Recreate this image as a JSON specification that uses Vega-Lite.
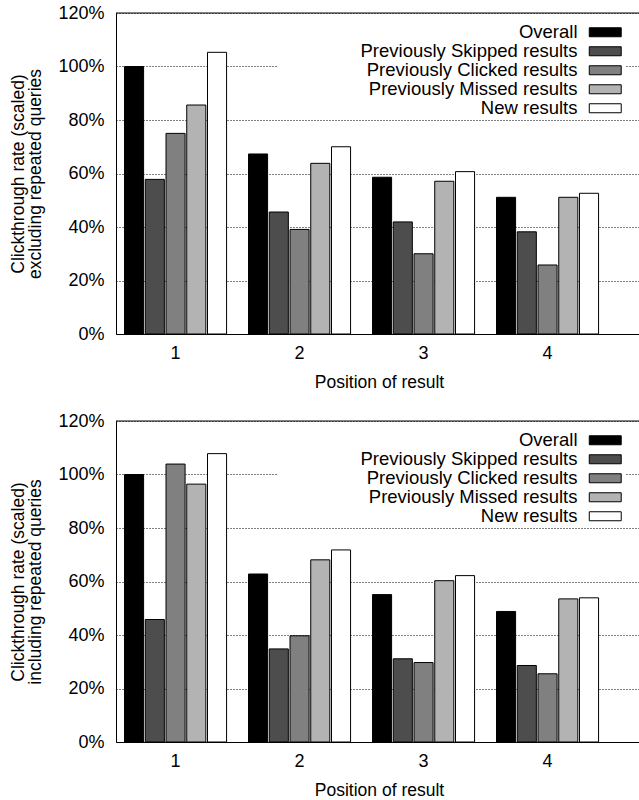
{
  "$schema": "https://vega.github.io/schema/vega-lite/v6.json",
  "padding": {"left": 9, "top": 4, "right": 0, "bottom": 0},
  "background": "white",
  "config": {
    "font": "Liberation Sans",
    "view": {"stroke": null},
    "axis": {
      "labelFontSize": 18,
      "titleFontSize": 17.5,
      "titleFontWeight": "normal",
      "labelColor": "black",
      "titleColor": "black",
      "domainColor": "black",
      "domainWidth": 1,
      "ticks": false
    },
    "legend": {
      "title": null,
      "orient": "none",
      "legendX": 162,
      "legendY": 8,
      "padding": 2,
      "fillColor": "white",
      "labelFontSize": 18.5,
      "labelColor": "black",
      "labelAlign": "right",
      "labelOffset": -37,
      "symbolOffset": 316,
      "labelLimit": 400,
      "symbolType": "M-3.55,-1L3.55,-1L3.55,1L-3.55,1Z",
      "symbolSize": 81,
      "symbolStrokeColor": "black",
      "symbolStrokeWidth": 1,
      "symbolOpacity": 1,
      "rowPadding": -1.25
    }
  },
  "datasets": {
    "excl": [
      {"position": 1, "series": "Overall", "rate": 1.0},
      {"position": 1, "series": "Previously Skipped results", "rate": 0.578},
      {"position": 1, "series": "Previously Clicked results", "rate": 0.75},
      {"position": 1, "series": "Previously Missed results", "rate": 0.856},
      {"position": 1, "series": "New results", "rate": 1.053},
      {"position": 2, "series": "Overall", "rate": 0.673},
      {"position": 2, "series": "Previously Skipped results", "rate": 0.456},
      {"position": 2, "series": "Previously Clicked results", "rate": 0.391},
      {"position": 2, "series": "Previously Missed results", "rate": 0.638},
      {"position": 2, "series": "New results", "rate": 0.70},
      {"position": 3, "series": "Overall", "rate": 0.586},
      {"position": 3, "series": "Previously Skipped results", "rate": 0.419},
      {"position": 3, "series": "Previously Clicked results", "rate": 0.30},
      {"position": 3, "series": "Previously Missed results", "rate": 0.571},
      {"position": 3, "series": "New results", "rate": 0.607},
      {"position": 4, "series": "Overall", "rate": 0.511},
      {"position": 4, "series": "Previously Skipped results", "rate": 0.382},
      {"position": 4, "series": "Previously Clicked results", "rate": 0.258},
      {"position": 4, "series": "Previously Missed results", "rate": 0.511},
      {"position": 4, "series": "New results", "rate": 0.526}
    ],
    "incl": [
      {"position": 1, "series": "Overall", "rate": 1.0},
      {"position": 1, "series": "Previously Skipped results", "rate": 0.458},
      {"position": 1, "series": "Previously Clicked results", "rate": 1.039},
      {"position": 1, "series": "Previously Missed results", "rate": 0.964},
      {"position": 1, "series": "New results", "rate": 1.078},
      {"position": 2, "series": "Overall", "rate": 0.628},
      {"position": 2, "series": "Previously Skipped results", "rate": 0.348},
      {"position": 2, "series": "Previously Clicked results", "rate": 0.397},
      {"position": 2, "series": "Previously Missed results", "rate": 0.681},
      {"position": 2, "series": "New results", "rate": 0.718},
      {"position": 3, "series": "Overall", "rate": 0.551},
      {"position": 3, "series": "Previously Skipped results", "rate": 0.311},
      {"position": 3, "series": "Previously Clicked results", "rate": 0.297},
      {"position": 3, "series": "Previously Missed results", "rate": 0.603},
      {"position": 3, "series": "New results", "rate": 0.622},
      {"position": 4, "series": "Overall", "rate": 0.488},
      {"position": 4, "series": "Previously Skipped results", "rate": 0.286},
      {"position": 4, "series": "Previously Clicked results", "rate": 0.255},
      {"position": 4, "series": "Previously Missed results", "rate": 0.535},
      {"position": 4, "series": "New results", "rate": 0.539}
    ],
    "frame": [{"top": 1.2}]
  },
  "spacing": 21,
  "resolve": {"scale": {"fill": "independent"}, "legend": {"fill": "independent"}},
  "vconcat": [
    {
      "width": 526,
      "height": 321,
      "layer": [
        {
          "data": {"name": "excl"},
          "mark": {"type": "bar", "stroke": "black", "strokeWidth": 1},
          "encoding": {
            "x": {
              "field": "position", "type": "ordinal",
              "scale": {"paddingInner": 0.177, "paddingOuter": 0.2095, "align": 0.164},
              "axis": {"labelAngle": 0, "labelPadding": 10, "titlePadding": 11, "grid": false},
              "title": "Position of result"
            },
            "xOffset": {
              "field": "series", "type": "nominal",
              "sort": ["Overall", "Previously Skipped results", "Previously Clicked results", "Previously Missed results", "New results"],
              "scale": {"paddingInner": 0.08, "paddingOuter": 0}
            },
            "y": {
              "field": "rate", "type": "quantitative",
              "scale": {"domain": [0, 1.2]},
              "axis": {"values": [0, 0.2, 0.4, 0.6, 0.8, 1.0, 1.2], "format": ".0%", "grid": true, "gridDash": [1, 2], "gridColor": "black", "gridWidth": 1, "labelPadding": 12, "titlePadding": 13, "titleLineHeight": 17},
              "title": ["Clickthrough rate (scaled)", "excluding repeated queries"]
            },
            "fill": {
              "field": "series", "type": "nominal",
              "scale": {
                "domain": ["Overall", "Previously Skipped results", "Previously Clicked results", "Previously Missed results", "New results"],
                "range": ["#000000", "#4d4d4d", "#808080", "#b3b3b3", "#ffffff"]
              }
            }
          }
        },
        {
          "data": {"name": "frame"},
          "mark": {"type": "rule", "color": "black", "strokeWidth": 1},
          "encoding": {"y": {"field": "top", "type": "quantitative"}}
        }
      ]
    },
    {
      "width": 526,
      "height": 321,
      "layer": [
        {
          "data": {"name": "incl"},
          "mark": {"type": "bar", "stroke": "black", "strokeWidth": 1},
          "encoding": {
            "x": {
              "field": "position", "type": "ordinal",
              "scale": {"paddingInner": 0.177, "paddingOuter": 0.2095, "align": 0.164},
              "axis": {"labelAngle": 0, "labelPadding": 10, "titlePadding": 11, "grid": false},
              "title": "Position of result"
            },
            "xOffset": {
              "field": "series", "type": "nominal",
              "sort": ["Overall", "Previously Skipped results", "Previously Clicked results", "Previously Missed results", "New results"],
              "scale": {"paddingInner": 0.08, "paddingOuter": 0}
            },
            "y": {
              "field": "rate", "type": "quantitative",
              "scale": {"domain": [0, 1.2]},
              "axis": {"values": [0, 0.2, 0.4, 0.6, 0.8, 1.0, 1.2], "format": ".0%", "grid": true, "gridDash": [1, 2], "gridColor": "black", "gridWidth": 1, "labelPadding": 12, "titlePadding": 13, "titleLineHeight": 17},
              "title": ["Clickthrough rate (scaled)", "including repeated queries"]
            },
            "fill": {
              "field": "series", "type": "nominal",
              "scale": {
                "domain": ["Overall", "Previously Skipped results", "Previously Clicked results", "Previously Missed results", "New results"],
                "range": ["#000000", "#4d4d4d", "#808080", "#b3b3b3", "#ffffff"]
              }
            }
          }
        },
        {
          "data": {"name": "frame"},
          "mark": {"type": "rule", "color": "black", "strokeWidth": 1},
          "encoding": {"y": {"field": "top", "type": "quantitative"}}
        }
      ]
    }
  ]
}
